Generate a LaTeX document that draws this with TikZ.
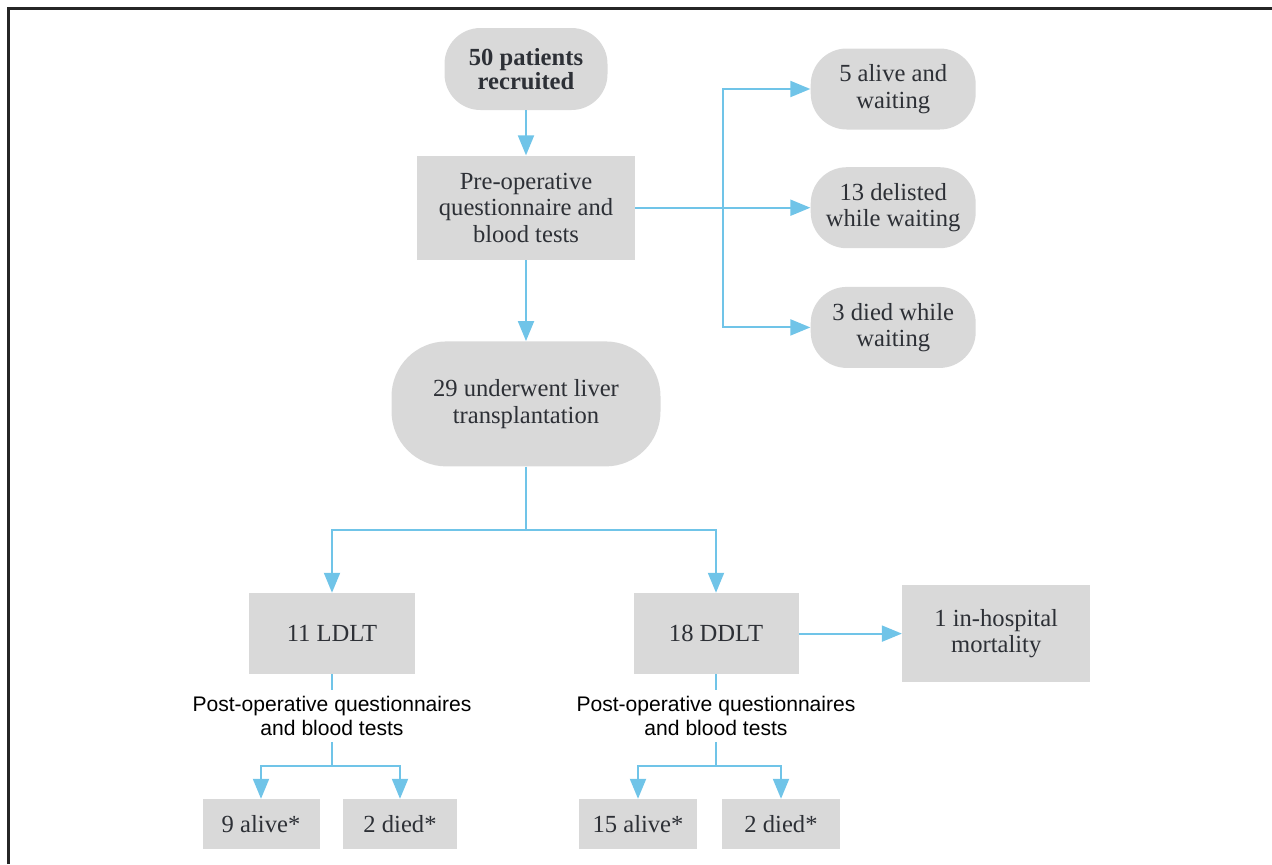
\documentclass[tikz,border=0pt]{standalone}
\usepackage{fontspec}
\setmainfont{Liberation Serif}
\setsansfont{Liberation Sans}
\usepackage{xcolor}
\usepackage{tikz}
\usetikzlibrary{positioning, arrows.meta}

\definecolor{boxgrey}{RGB}{217,217,217}
\definecolor{flowblue}{RGB}{112,196,232}
\definecolor{inkgrey}{RGB}{45,48,54}

\begin{document}
\begin{tikzpicture}[
                >={Triangle[length=0.4cm, width=0.32cm]},
                node distance=1cm,
                box/.style={fill=boxgrey, text=inkgrey, inner sep=0pt, align=center,
                    font=\fontsize{14}{15}\selectfont},
                pill/.style={box, rounded corners=0.72cm},
                flow/.style={flowblue, line width=0.04cm},
                note/.style={inner sep=3pt, align=center,
                    font=\sffamily\fontsize{12}{14}\selectfont}
            ]
                \useasboundingbox (0,0) rectangle (25.44,-17.28);
                \draw[line width=0.05cm, black!85] (0.17,-17.28) |- (25.44,-0.17);

                \node[pill, minimum width=3.26cm, minimum height=1.64cm,
                    font=\bfseries\fontsize{14}{11.5}\selectfont] (recruit) at (10.52,-1.38) {50 patients\\recruited};
                \node[box, minimum width=4.36cm, minimum height=2.08cm] (preop) [below=0.9cm of recruit] {Pre-operative\\questionnaire and\\blood tests};
                \node[pill, rounded corners=1.1cm, minimum width=5.38cm, minimum height=2.5cm] (ltx) [below=1.62cm of preop] {29 underwent liver\\transplantation};

                \coordinate[right=1.76cm of preop] (fork);
                \node[pill, minimum width=3.3cm, minimum height=1.62cm] (delisted) [right=3.5cm of preop] {13 delisted\\while waiting};
                \node[pill, minimum width=3.3cm, minimum height=1.62cm] (alive5) [above=0.74cm of delisted] {5 alive and\\waiting};
                \node[pill, minimum width=3.3cm, minimum height=1.62cm] (died3) [below=0.76cm of delisted] {3 died while\\waiting};

                \coordinate[below=1.26cm of ltx] (split);
                \node[box, minimum width=3.32cm, minimum height=1.62cm] (ldlt) [below=2.52cm of ltx, xshift=-3.88cm] {11 LDLT};
                \node[box, minimum width=3.3cm, minimum height=1.62cm] (ddlt) [below=2.52cm of ltx, xshift=3.8cm] {18 DDLT};
                \node[box, minimum width=3.76cm, minimum height=1.94cm] (mort) [right=2.06cm of ddlt] {1 in-hospital\\mortality};

                \node[note] (postL) [below=0.32cm of ldlt] {Post-operative questionnaires\\and blood tests};
                \node[note] (postR) [below=0.32cm of ddlt] {Post-operative questionnaires\\and blood tests};
                \coordinate[below=0.48cm of postL] (forkL);
                \coordinate[below=0.48cm of postR] (forkR);

                \node[box, minimum width=2.34cm, minimum height=1cm] (alive9) [below=0.66cm of forkL, xshift=-1.42cm] {9 alive*};
                \node[box, minimum width=2.28cm, minimum height=1cm] (diedL) [below=0.66cm of forkL, xshift=1.36cm] {2 died*};
                \node[box, minimum width=2.36cm, minimum height=1cm] (alive15) [below=0.66cm of forkR, xshift=-1.56cm] {15 alive*};
                \node[box, minimum width=2.36cm, minimum height=1cm] (diedR) [below=0.66cm of forkR, xshift=1.3cm] {2 died*};

                \path[flow, ->]
                (recruit) edge (preop)
                (preop) edge (ltx)
                (preop) edge (delisted)
                (ddlt) edge (mort);

                \draw[flow, ->] (fork) |- (alive5);
                \draw[flow, ->] (fork) |- (died3);

                \draw[flow] (ltx) -- (split);
                \draw[flow, ->] (split) -| (ldlt);
                \draw[flow, ->] (split) -| (ddlt);

                \draw[flow] (ldlt) -- (postL);
                \draw[flow] (postL) -- (forkL);
                \draw[flow, ->] (forkL) -| (alive9);
                \draw[flow, ->] (forkL) -| (diedL);

                \draw[flow] (ddlt) -- (postR);
                \draw[flow] (postR) -- (forkR);
                \draw[flow, ->] (forkR) -| (alive15);
                \draw[flow, ->] (forkR) -| (diedR);
            \end{tikzpicture}
\end{document}
